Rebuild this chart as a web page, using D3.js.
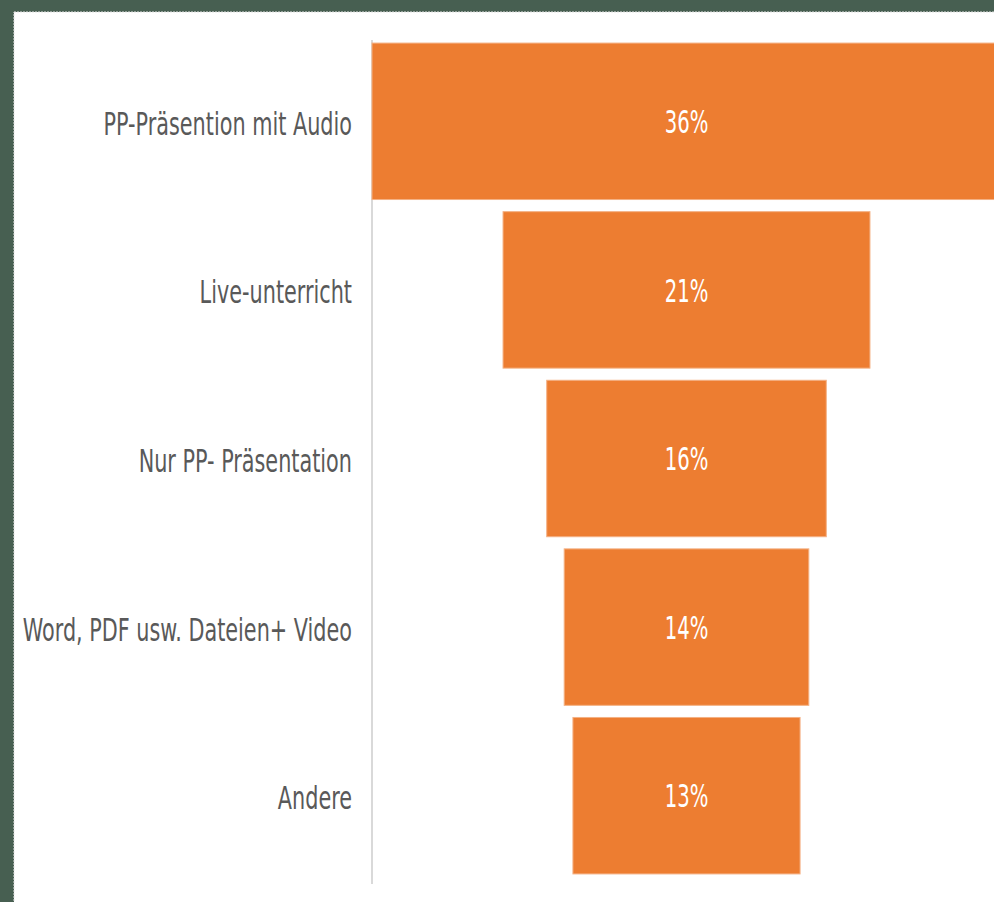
<!DOCTYPE html>
<html>
<head>
<meta charset="utf-8">
<script src="https://cdn.jsdelivr.net/npm/d3@7"></script>
<style>
  html, body { margin: 0; padding: 0; background: #475f51; }
  svg { display: block; }
  text { font-family: "Liberation Sans Narrow", "DejaVu Sans Condensed", sans-serif; }
</style>
</head>
<body>
<svg id="chart"></svg>
<script>
// data
const categories = ['PP-Präsention mit Audio', 'Live-unterricht', 'Nur PP- Präsentation', 'Word, PDF usw. Dateien+ Video', 'Andere'];
const values = [36, 21, 16, 14, 13];
const valueLabels = ['36%', '21%', '16%', '14%', '13%'];

const W = 994, H = 902;
const margin = {top: 37, bottom: 22, left: 372, right: 0};
const plotH = H - margin.top - margin.bottom;
const centerX = 314.5; // funnel centre inside plot
const maxW = 629;

const $svg = d3.select('#chart').attr('width', W).attr('height', H);

// white panel
$svg.append('rect')
	.attr('x', 14).attr('y', 12)
	.attr('width', W - 14 + 2).attr('height', H - 12 + 2)
	.style('fill', '#fff')
	.style('stroke', '#e3e3e3')
	.style('stroke-dasharray', '2,1');

const scaleY = d3.scaleBand()
	.domain(categories)
	.range([0, plotH])
	.paddingInner(0.072)
	.paddingOuter(0.036);

const scaleW = d3.scaleLinear()
	.domain([0, d3.max(values)])
	.range([0, maxW]);

const $vis = $svg.append('g')
	.attr('transform', 'translate(' + margin.left + ',' + margin.top + ')');

// axis line
$vis.append('line')
	.attr('x1', 0).attr('x2', 0)
	.attr('y1', 3).attr('y2', plotH + 4)
	.style('stroke', '#d9d9d9')
	.style('stroke-width', 2);

$vis.selectAll('.bar')
	.data(values)
	.enter()
	.append('rect')
	.attr('class', 'bar')
	.attr('x', d => centerX - scaleW(d) / 2)
	.attr('y', (d, i) => scaleY(categories[i]))
	.attr('width', d => scaleW(d))
	.attr('height', scaleY.bandwidth())
	.style('fill', '#ed7d31')
	.style('stroke', '#f4b184')
	.style('stroke-width', 1);

// value labels
$vis.selectAll('.val')
	.data(valueLabels)
	.enter()
	.append('text')
	.attr('class', 'val')
	.attr('transform', (d, i) => 'translate(' + centerX + ',' + (scaleY(categories[i]) + scaleY.bandwidth() / 2) + ') scale(0.84,1.25)')
	.attr('text-anchor', 'middle')
	.attr('dy', '0.36em')
	.style('font-size', '26px')
	.style('fill', '#fff')
	.text(d => d);

// category labels
$vis.selectAll('.cat')
	.data(categories)
	.enter()
	.append('text')
	.attr('class', 'cat')
	.attr('transform', d => 'translate(-20,' + (scaleY(d) + scaleY.bandwidth() / 2 + 2) + ') scale(0.84,1.15)')
	.attr('text-anchor', 'end')
	.attr('dy', '0.36em')
	.style('font-size', '27.5px')
	.style('fill', '#595959')
	.text(d => d);
</script>
</body>
</html>
